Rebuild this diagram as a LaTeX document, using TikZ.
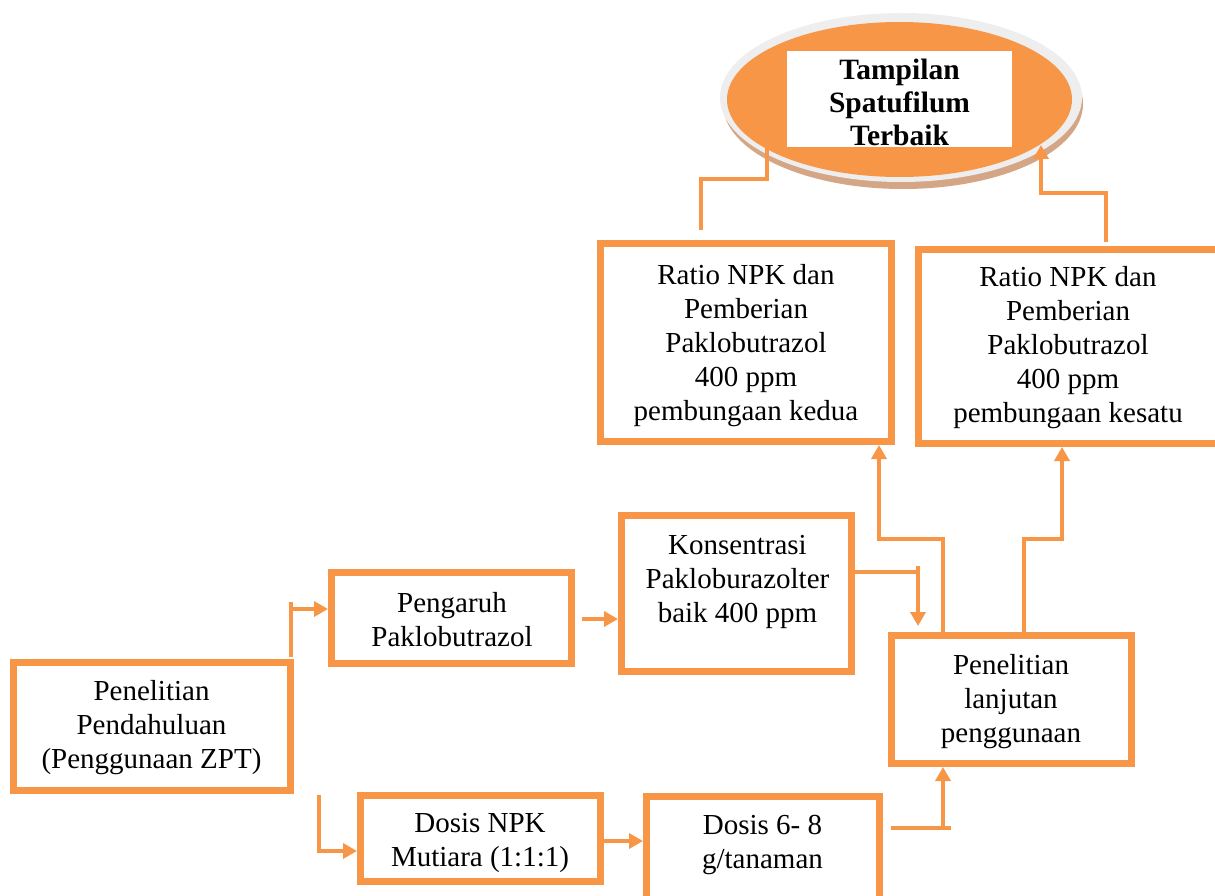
\documentclass[tikz,border=0pt]{standalone}
\usepackage{fontspec}
\setmainfont{Liberation Serif}
\usetikzlibrary{arrows.meta,shapes.geometric}
\definecolor{org}{RGB}{247,150,70}
\definecolor{rim}{RGB}{238,238,238}
\definecolor{shd}{RGB}{212,166,133}
\begin{document}
\begin{tikzpicture}[x=1pt,y=-1pt,
  box/.style={draw=org,line width=7pt,inner sep=0pt,fill=white},
  txt/.style={align=center,font=\fontsize{29}{34}\selectfont,inner sep=0pt},
  ttl/.style={align=center,font=\fontsize{29.5}{33}\selectfont\bfseries,inner sep=0pt},
  conn/.style={draw=org,line width=3.6pt},
  arr/.style={conn,-{Triangle[width=15pt,length=14pt]}},
]
\useasboundingbox (0,0) rectangle (1215,896);

% ellipse (goal)
\fill[shd] (903,104) ellipse [x radius=180, y radius=85];
\fill[rim] (901,97.5) ellipse [x radius=181, y radius=84.5];
\node[ellipse,fill=org,minimum width=345pt,minimum height=155pt,inner sep=0pt] (ell) at (899.5,99.5) {};
\node[fill=white,minimum width=225pt,minimum height=96pt,inner sep=0pt] (title) at (899.5,99) {};
\node[ttl] (titlet) at (899.5,102.5) {Tampilan\\Spatufilum\\Terbaik};

% boxes
\node[box,minimum width=277pt,minimum height=128pt] (pend) at (152,726.5) {};
\node[txt] (pendt) at (151.5,728) {Penelitian\\Pendahuluan\\(Penggunaan ZPT)};

\node[box,minimum width=240pt,minimum height=91pt] (peng) at (451.5,617.5) {};
\node[txt] (pengt) at (452,620) {Pengaruh\\Paklobutrazol};

\node[box,minimum width=230pt,minimum height=156pt] (kons) at (736.5,593.5) {};
\node[txt] (konst) at (737.5,581.5) {Konsentrasi\\Pakloburazolter\\baik 400 ppm};

\node[box,minimum width=239.5pt,minimum height=86.5pt] (dnpk) at (480.25,838.25) {};
\node[txt] (dnpkt) at (480,843) {Dosis NPK\\Mutiara (1:1:1)};

\node[box,minimum width=233pt,minimum height=108.5pt] (dos) at (763,850.75) {};
\node[txt] (dost) at (762.5,845) {Dosis 6- 8\\g/tanaman};

\node[box,minimum width=240pt,minimum height=128pt] (lanj) at (1011.5,699.5) {};
\node[txt] (lanjt) at (1011,701.5) {Penelitian\\lanjutan\\penggunaan};

\node[box,minimum width=291pt,minimum height=198pt] (r2) at (746,342.5) {};
\node[txt] (r2t) at (746,345.5) {Ratio NPK dan\\Pemberian\\Paklobutrazol\\400 ppm\\pembungaan kedua};

\node[box,minimum width=303.5pt,minimum height=194pt] (r1) at (1070.25,346.5) {};
\node[txt] (r1t) at (1068,348) {Ratio NPK dan\\Pemberian\\Paklobutrazol\\400 ppm\\pembungaan kesatu};

% connector coordinates
\coordinate (c1t) at (291,602);
\coordinate (c1b) at (291,657);
\coordinate (c1m) at (291,609);
\coordinate (c2t) at (319,795);
\coordinate (c2b) at (319,851);
\coordinate (c3) at (582,619);
\coordinate (c4) at (603,841);
\coordinate (c5b) at (918,572);
\coordinate (c5t) at (918,566);
\coordinate (c5e) at (918,626);
\coordinate (c6a) at (891,828);
\coordinate (c6b) at (951,828);
\coordinate (c6v) at (943,828);
\coordinate (c7) at (943,539);
\coordinate (c7b) at (879,539);
\coordinate (c8) at (1024,539);
\coordinate (c8b) at (1062,539);
\coordinate (c9a) at (701,230);
\coordinate (c9b) at (701,179);
\coordinate (c9c) at (767,179);
\coordinate (c9d) at (767,145);
\coordinate (c10a) at (1106,242);
\coordinate (c10b) at (1106,193);
\coordinate (c10c) at (1041,193);
\coordinate (c10d) at (1041,145);

% connectors
\draw[conn] (c1t) -- (c1b);
\draw[arr] (c1m) -- (c1m -| peng.west);
\draw[arr] (c2t) -- (c2b) -- (c2b -| dnpk.west);
\draw[arr] (c3) -- (c3 -| kons.west);
\draw[arr] (c4) -- (c4 -| dos.west);
\draw[conn] (c5b -| kons.east) -- (c5b);
\draw[arr] (c5t) -- (c5e);
\draw[conn] (c6a) -- (c6b);
\draw[arr] (c6v) -- (c6v |- lanj.south);
\draw[arr] (c7 |- lanj.north) -- (c7) -- (c7b) -- (c7b |- r2.south);
\draw[arr] (c8 |- lanj.north) -- (c8) -- (c8b) -- (c8b |- r1.south);
\draw[conn] (c9a) -- (c9b) -- (c9c) -- (c9d);
\draw[arr] (c10a) -- (c10b) -- (c10c) -- (c10d);
\end{tikzpicture}
\end{document}
